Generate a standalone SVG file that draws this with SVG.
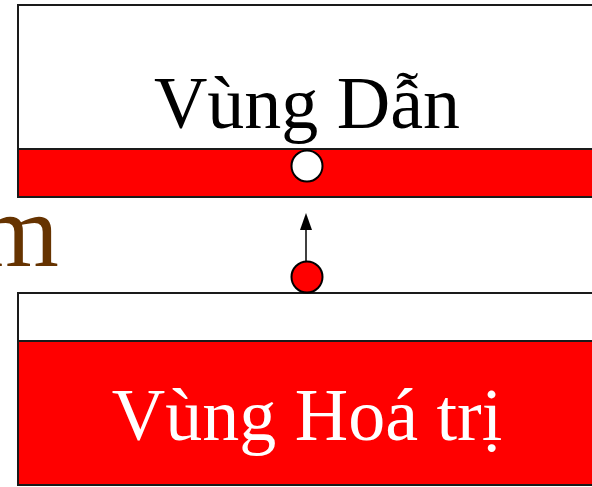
<svg xmlns="http://www.w3.org/2000/svg" width="592" height="487" viewBox="0 0 592 487">
<defs>
<style>
.box{fill:#fff;stroke:#1a1a1a;stroke-width:2}
.band{fill:#ff0000;stroke:#1a1a1a;stroke-width:2}
.lbl{font-family:"Liberation Serif","Times New Roman",serif;font-size:74px;text-anchor:middle}
</style>
<marker id="ah" markerWidth="10" markerHeight="12" refX="5" refY="0" orient="auto-start-reverse" markerUnits="userSpaceOnUse" viewBox="0 0 10 16">
<path d="M0,16 L5,0 L10,16 Z" fill="#000"/>
</marker>
</defs>
<text x="-22" y="266" font-family="Liberation Serif,serif" font-size="104" fill="#663300">m</text>
<g id="conduction">
<rect class="box" x="18" y="5" width="590" height="192"/>
<rect class="band" x="18" y="149" width="590" height="48"/>
<text class="lbl" x="307" y="128" fill="#000">Vùng Dẫn</text>
</g>
<g id="valence">
<rect class="box" x="18" y="293" width="590" height="192"/>
<rect class="band" x="18" y="341" width="590" height="144"/>
<text class="lbl" x="307" y="440" fill="#fff">Vùng Hoá trị</text>
</g>
<g id="connectors">
<line x1="306" y1="261" x2="306" y2="229" stroke="#000" stroke-width="1.5"/>
<path d="M300,230 L306,213 L312,230 Z" fill="#000"/>
</g>
<g id="hole">
<circle cx="307" cy="166" r="15.5" fill="#fff" stroke="#000" stroke-width="2"/>
</g>
<g id="electron">
<circle cx="307" cy="277" r="15.5" fill="#ff0000" stroke="#000" stroke-width="2"/>
</g>
</svg>
